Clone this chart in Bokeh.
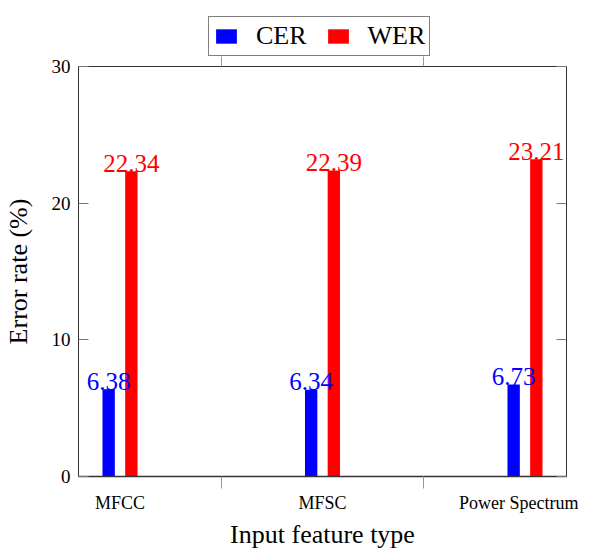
from bokeh.plotting import figure
from bokeh.layouts import column
from bokeh.models import (ColumnDataSource, FixedTicker, LinearAxis, Legend, LegendItem,
                          Range1d)
from bokeh.transform import dodge
from bokeh.embed import file_html
from bokeh.resources import INLINE

categories = ["MFCC", "MFSC", "Power Spectrum"]
cer = [6.38, 6.34, 6.73]
wer = [22.34, 22.39, 23.21]
y_ticks = [0, 10, 20, 30]

FONT = "Liberation Serif"
BLUE = "#0000ff"
RED = "#ff0000"
INK = "black"
idx = list(range(len(categories)))
bounds = [i + 0.5 for i in idx[:-1]]
src = ColumnDataSource(dict(
    x=idx, cer=cer, wer=wer,
    cer_lbl=[f"{v:.2f}" for v in cer],
    wer_lbl=[f"{v:.2f}" for v in wer],
))

p = figure(width=572, height=490, frame_width=488, frame_height=410,
           output_backend="svg", toolbar_location=None,
           x_range=Range1d(-0.205, 2.205), y_range=Range1d(0, 30),
           min_border_left=72, min_border_right=12, min_border_top=10,
           min_border_bottom=70, x_axis_type=None, y_axis_type=None)
p.outline_line_color = "#333333"
p.outline_line_width = 1
p.background_fill_color = "white"
p.border_fill_color = "white"

off = 0.056
bw = 0.061
p.vbar(x=dodge("x", -off), top="cer", width=bw, source=src,
       fill_color=BLUE, line_color=None)
p.vbar(x=dodge("x", off), top="wer", width=bw, source=src,
       fill_color=RED, line_color=None)

p.text(x=dodge("x", -off), y="cer", text="cer_lbl", source=src,
       text_align="center", text_baseline="alphabetic", y_offset=-8,
       text_font=FONT, text_font_size="25px", text_color=BLUE)
p.text(x=dodge("x", off), y="wer", text="wer_lbl", source=src,
       text_align="center", text_baseline="alphabetic", y_offset=-8,
       text_font=FONT, text_font_size="25px", text_color=RED)

# bottom x axis
xb = LinearAxis(ticker=FixedTicker(ticks=idx, minor_ticks=bounds),
                major_label_overrides={i: c for i, c in enumerate(categories)})
xb.axis_label = "Input feature type"
xb.axis_label_text_font = FONT
xb.axis_label_text_font_size = "26px"
xb.axis_label_text_font_style = "normal"
xb.axis_label_text_color = INK
xb.axis_label_standoff = 4
xb.major_label_text_font = FONT
xb.major_label_text_font_size = "18px"
xb.major_label_text_color = INK
xb.major_label_standoff = 4
xb.major_tick_line_color = None
xb.major_tick_in = 0
xb.major_tick_out = 0
xb.minor_tick_line_color = "#999999"
xb.minor_tick_in = 0
xb.minor_tick_out = 12
xb.axis_line_color = "#333333"
xb.axis_line_width = 1.5
p.add_layout(xb, "below")

# left y axis
yl = LinearAxis(ticker=FixedTicker(ticks=y_ticks, minor_ticks=[]))
yl.axis_label = "Error rate (%)"
yl.axis_label_text_font = FONT
yl.axis_label_text_font_size = "26px"
yl.axis_label_text_font_style = "normal"
yl.axis_label_text_color = INK
yl.axis_label_standoff = 16
yl.major_label_text_font = FONT
yl.major_label_text_font_size = "19px"
yl.major_label_text_color = INK
yl.major_label_standoff = 8
yl.major_tick_in = 10
yl.major_tick_out = 0
yl.major_tick_line_color = "#777777"
yl.minor_tick_line_color = None
yl.axis_line_color = "#333333"
p.add_layout(yl, "left")

# right y axis (ticks only)
yr = LinearAxis(ticker=FixedTicker(ticks=y_ticks, minor_ticks=[]),
                major_label_overrides={t: "" for t in y_ticks})
yr.major_tick_in = 10
yr.major_tick_out = 0
yr.major_tick_line_color = "#777777"
yr.minor_tick_line_color = None
yr.axis_line_color = None
yr.major_label_standoff = 0
p.add_layout(yr, "right")

# top x axis (boundary ticks only)
xt = LinearAxis(ticker=FixedTicker(ticks=bounds, minor_ticks=[]),
                major_label_overrides={b: "" for b in bounds})
xt.major_tick_line_color = "#999999"
xt.major_tick_in = 0
xt.major_tick_out = 10
xt.minor_tick_line_color = None
xt.axis_line_color = None
xt.major_label_standoff = 0
p.add_layout(xt, "above")

p.ygrid.ticker = FixedTicker(ticks=y_ticks)
p.ygrid.grid_line_color = "#bdbdbd"
p.xgrid.grid_line_color = None

# legend strip above the plot (swatches share the bars' data and styles;
# its y-range keeps the bars themselves out of view)
lf = figure(width=572, height=56, output_backend="svg", toolbar_location=None,
            x_range=Range1d(-0.205, 2.205), y_range=Range1d(100, 101),
            min_border=0, x_axis_type=None, y_axis_type=None)
lf.outline_line_color = None
lf.xgrid.visible = False
lf.ygrid.visible = False
lc = lf.vbar(x=dodge("x", -off), top="cer", width=bw, source=src,
             fill_color=BLUE, line_color=None)
lw = lf.vbar(x=dodge("x", off), top="wer", width=bw, source=src,
             fill_color=RED, line_color=None)

legend = Legend(items=[LegendItem(label="CER", renderers=[lc]),
                       LegendItem(label="WER", renderers=[lw])],
                orientation="horizontal", location=(130, 0))
legend.label_text_font = FONT
legend.label_text_font_size = "26px"
legend.label_text_color = INK
legend.glyph_width = 26
legend.glyph_height = 18
legend.label_standoff = 17
legend.spacing = 18
legend.padding = 4
legend.margin = 0
legend.border_line_color = "black"
legend.border_line_width = 1.2
legend.background_fill_color = "white"
legend.background_fill_alpha = 1
lf.add_layout(legend, "center")

layout = column(lf, p, spacing=0)
open("out.html", "w").write(file_html(layout, INLINE))
